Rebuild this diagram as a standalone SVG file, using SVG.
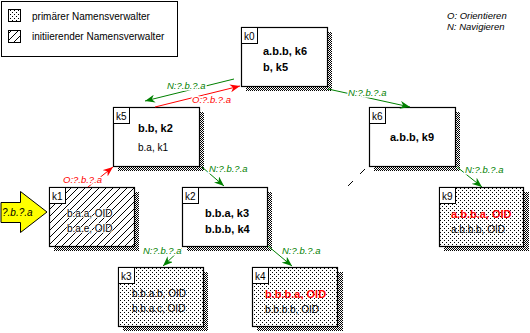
<svg xmlns="http://www.w3.org/2000/svg" width="530" height="333" viewBox="0 0 530 333">
<defs>
<pattern id="checker" width="2" height="2" patternUnits="userSpaceOnUse"><rect width="2" height="2" fill="#fff"/><rect x="0" y="0" width="1" height="1" fill="#000"/><rect x="1" y="1" width="1" height="1" fill="#000"/></pattern>
<pattern id="dots" width="4" height="4" patternUnits="userSpaceOnUse"><rect width="4" height="4" fill="#fff"/><rect x="0" y="0" width="1" height="1" fill="#000"/><rect x="2" y="2" width="1" height="1" fill="#000"/></pattern>
<pattern id="hatch" width="7" height="7" patternUnits="userSpaceOnUse"><rect width="7" height="7" fill="#fff"/><path d="M0,7 L7,0 M-1,1 L1,-1 M6,8 L8,6" stroke="#000" stroke-width="1"/></pattern>
<marker id="ag" viewBox="0 0 10 8" refX="10" refY="4" markerWidth="10" markerHeight="8" markerUnits="userSpaceOnUse" orient="auto"><path d="M0,0 L10,4 L0,8 L3,4 z" fill="#008000"/></marker>
<marker id="ar" viewBox="0 0 10 8" refX="10" refY="4" markerWidth="10" markerHeight="8" markerUnits="userSpaceOnUse" orient="auto"><path d="M0,0 L10,4 L0,8 L3,4 z" fill="#ff0000"/></marker>
<style>
.t{font-family:"Liberation Sans",Arial,sans-serif;font-size:10px;fill:#000}
.b{font-family:"Liberation Sans",Arial,sans-serif;font-size:11px;font-weight:bold;fill:#000}
.red{fill:#ff0000}
.lab{font-family:"Liberation Sans",Arial,sans-serif;font-size:9.5px;font-style:italic;paint-order:stroke;stroke:#fff;stroke-width:3px}
.lg{fill:#008000}
.lr{fill:#ff0000}
.box{fill:#fff;stroke:#000;stroke-width:1.2}
.sh{fill:url(#checker)}
.kb{fill:#fff;stroke:#000;stroke-width:1}
.cg{stroke:#008000;stroke-width:1;fill:none;marker-end:url(#ag)}
.cr{stroke:#ff0000;stroke-width:1;fill:none;marker-end:url(#ar)}
.leg{font-family:"Liberation Sans",Arial,sans-serif;font-size:9.5px;font-style:italic;fill:#000}
</style>
</defs>
<rect width="530" height="333" fill="#fff"/>

<g id="legend">
<rect x="1.5" y="1.5" width="176" height="55" fill="#fff" stroke="#000" stroke-width="1"/>
<rect x="8.5" y="9.5" width="12" height="12" fill="url(#dots)" stroke="#000"/>
<text class="t" x="32" y="20">primärer Namensverwalter</text>
<rect x="8.5" y="30.5" width="12" height="12" fill="url(#hatch)" stroke="#000"/>
<text class="t" x="32" y="40">initiierender Namensverwalter</text>
</g>
<g id="legend2">
<text class="leg" x="447" y="19">O: Orientieren</text>
<text class="leg" x="447" y="30">N: Navigieren</text>
</g>

<g id="k0">
<rect class="sh" x="246" y="32" width="86" height="59"/>
<rect class="box" x="241.5" y="27.5" width="86" height="59"/>
<rect class="kb" x="241.5" y="27.5" width="16" height="16"/>
<text class="t" x="244" y="40">k0</text>
<text class="b" x="263" y="55">a.b.b, k6</text>
<text class="b" x="263" y="71">b, k5</text>
</g>

<g id="k5">
<rect class="sh" x="118" y="112" width="86" height="59"/>
<rect class="box" x="113.5" y="107.5" width="86" height="59"/>
<rect class="kb" x="113.5" y="107.5" width="16" height="16"/>
<text class="t" x="116" y="120">k5</text>
<text class="b" x="138" y="132">b.b, k2</text>
<text class="t" x="138" y="151">b.a, k1</text>
</g>

<g id="k6">
<rect class="sh" x="374" y="112" width="86" height="59"/>
<rect class="box" x="369.5" y="107.5" width="86" height="59"/>
<rect class="kb" x="369.5" y="107.5" width="16" height="16"/>
<text class="t" x="372" y="120">k6</text>
<text class="b" x="390" y="141">a.b.b, k9</text>
</g>

<g id="k1">
<rect class="sh" x="54" y="192" width="85" height="59"/>
<rect x="49.5" y="187.5" width="85" height="59" fill="url(#hatch)" stroke="#000" stroke-width="1.2"/>
<rect class="kb" x="49.5" y="187.5" width="16" height="16"/>
<text class="t" x="52" y="200">k1</text>
<text class="t" x="67" y="217" paint-order="stroke" stroke="#fff" stroke-width="1.5">b.a.a, OID</text>
<text class="t" x="67" y="232" paint-order="stroke" stroke="#fff" stroke-width="1.5">b.a.e, OID</text>
</g>

<g id="k2">
<rect class="sh" x="187" y="192" width="85" height="59"/>
<rect class="box" x="182.5" y="187.5" width="85" height="59"/>
<rect class="kb" x="182.5" y="187.5" width="16" height="16"/>
<text class="t" x="185" y="200">k2</text>
<text class="b" x="205" y="217">b.b.a, k3</text>
<text class="b" x="205" y="233">b.b.b, k4</text>
</g>

<g id="k9">
<rect class="sh" x="444" y="192" width="85" height="59"/>
<rect x="439.5" y="187.5" width="84" height="59" fill="url(#dots)" stroke="#000" stroke-width="1.2"/>
<rect class="kb" x="439.5" y="187.5" width="16" height="16"/>
<text class="t" x="442" y="200">k9</text>
<text class="b red" x="451" y="218">a.b.b.a, OID</text>
<text class="t" x="451" y="233">a.b.b.b, OID</text>
</g>

<g id="k3">
<rect class="sh" x="123" y="272" width="85" height="59"/>
<rect x="118.5" y="267.5" width="85" height="59" fill="url(#dots)" stroke="#000" stroke-width="1.2"/>
<rect class="kb" x="118.5" y="267.5" width="16" height="16"/>
<text class="t" x="121" y="280">k3</text>
<text class="t" x="132" y="297">b.b.a.b, OID</text>
<text class="t" x="132" y="312">b.b.a.c, OID</text>
</g>

<g id="k4">
<rect class="sh" x="257" y="272" width="86" height="59"/>
<rect x="252.5" y="267.5" width="85" height="59" fill="url(#dots)" stroke="#000" stroke-width="1.2"/>
<rect class="kb" x="252.5" y="267.5" width="16" height="16"/>
<text class="t" x="255" y="280">k4</text>
<text class="b red" x="265" y="298">b.b.b.a, OID</text>
<text class="t" x="265" y="313">b.b.b.b, OID</text>
</g>

<g id="start">
<path d="M1,202.5 L20.5,202.5 L20.5,191.5 L47,212 L20.5,232.5 L20.5,222.5 L1,222.5 Z" fill="#ffff00" stroke="#000" stroke-width="1"/>
<text class="t" x="2" y="216" font-style="italic">?.b.?.a</text>
</g>

<g id="connectors">
<line class="cg" x1="234" y1="79" x2="145" y2="101"/>
<line class="cr" x1="155" y1="107" x2="240" y2="86"/>
<line class="cg" x1="328" y1="89" x2="410" y2="107"/>
<line class="cg" x1="457" y1="167" x2="482" y2="187"/>
<line class="cr" x1="88" y1="187" x2="113" y2="167"/>
<line class="cg" x1="202" y1="167" x2="224" y2="186"/>
<line class="cg" x1="182" y1="248" x2="163" y2="266"/>
<line class="cg" x1="268" y1="246" x2="292" y2="266"/>
<line x1="365" y1="169" x2="346" y2="188" stroke="#000" stroke-width="1" stroke-dasharray="7 10"/>
<text class="lab lg" x="167" y="89">N:?.b.?.a</text>
<text class="lab lr" x="192" y="103">O:?.b.?.a</text>
<text class="lab lg" x="348" y="96">N:?.b.?.a</text>
<text class="lab lg" x="465" y="173">N:?.b.?.a</text>
<text class="lab lr" x="63" y="183">O:?.b.?.a</text>
<text class="lab lg" x="209" y="172">N:?.b.?.a</text>
<text class="lab lg" x="143" y="254">N:?.b.?.a</text>
<text class="lab lg" x="282" y="254">N:?.b.?.a</text>
</g>
</svg>
